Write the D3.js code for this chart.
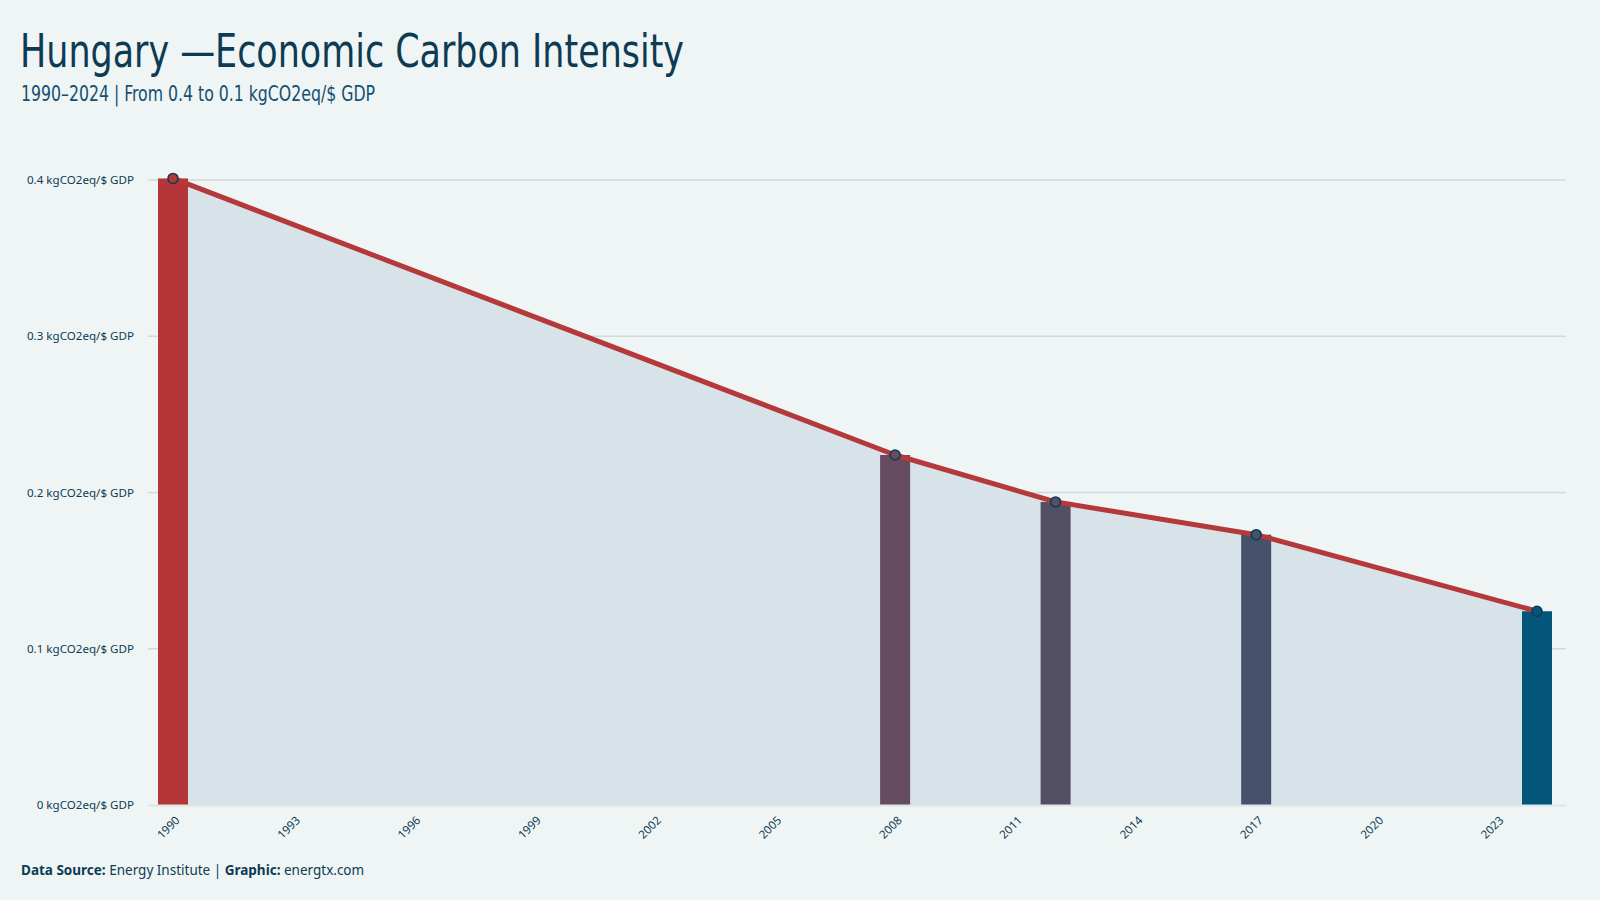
<!DOCTYPE html>
<html>
<head>
<meta charset="utf-8">
<script src="https://cdn.jsdelivr.net/npm/d3@7"></script>
<style>
  html, body { margin: 0; padding: 0; background: #eff5f5; }
  svg { display: block; }
</style>
</head>
<body>
<svg id="chart" width="1600" height="900"></svg>
<script>
// ---- Data ----
const years = [1990, 2008, 2012, 2017, 2024];
const intensity = [0.401, 0.224, 0.194, 0.173, 0.124];
const barColors = ["#b53639", "#674c5f", "#554f66", "#46526b", "#03567a"];
const xTickYears = [1990, 1993, 1996, 1999, 2002, 2005, 2008, 2011, 2014, 2017, 2020, 2023];
const yTickValues = [0, 0.1, 0.2, 0.3, 0.4];
const titleText = "Hungary \u2014Economic Carbon Intensity";
const subtitleText = "1990\u20132024 | From 0.4 to 0.1 kgCO2eq/$ GDP";

const data = years.map((y, i) => ({ year: y, value: intensity[i], color: barColors[i] }));

const svg = d3.select("#chart");
svg.append("rect").attr("width", 1600).attr("height", 900).attr("fill", "#eff5f5");

const plotLeft = 148, plotRight = 1566;
const x = d3.scaleLinear().domain([1990, 2024]).range([173, 1537]);
const y = d3.scaleLinear().domain([0, 0.4]).range([805, 180]);

const ink = "#0d3b54";

// Title and subtitle
svg.append("text")
  .attr("x", 20).attr("y", 67)
  .attr("font-family", "'Liberation Sans Narrow', 'DejaVu Sans Condensed', sans-serif")
  .attr("font-size", 46)
  .attr("fill", ink)
  .attr("textLength", 664).attr("lengthAdjust", "spacingAndGlyphs")
  .text(titleText);

svg.append("text")
  .attr("x", 21).attr("y", 101)
  .attr("font-family", "'Liberation Sans Narrow', 'DejaVu Sans Condensed', sans-serif")
  .attr("font-size", 21)
  .attr("fill", "#14506f")
  .attr("textLength", 354).attr("lengthAdjust", "spacingAndGlyphs")
  .text(subtitleText);

// Gridlines
svg.append("g").selectAll("line")
  .data(yTickValues.filter(v => v > 0))
  .join("line")
  .attr("x1", plotLeft).attr("x2", plotRight)
  .attr("y1", d => y(d)).attr("y2", d => y(d))
  .attr("stroke", "#cfdadd").attr("stroke-width", 1.5);

// Y axis labels
const yAxis = d3.axisLeft(y).tickValues(yTickValues).tickSize(0).tickPadding(0)
  .tickFormat(d => `${d === 0 ? 0 : d3.format(".1f")(d)} kgCO2eq/$ GDP`);
const yg = svg.append("g").attr("transform", `translate(134,0)`).call(yAxis);
yg.select(".domain").remove();
yg.selectAll("text")
  .attr("font-family", "'Noto Sans', sans-serif")
  .attr("font-size", 11.6)
  .attr("fill", ink);

// Area
const area = d3.area()
  .x(d => x(d.year))
  .y0(y(0))
  .y1(d => y(d.value));
svg.append("path").datum(data)
  .attr("d", area)
  .attr("fill", "#d7e3e8");

// Bars
const barW = 30;
svg.append("g").selectAll("rect")
  .data(data)
  .join("rect")
  .attr("x", d => x(d.year) - barW / 2)
  .attr("width", barW)
  .attr("y", d => y(d.value))
  .attr("height", d => y(0) - y(d.value))
  .attr("fill", d => d.color);

// X axis
const xAxis = d3.axisBottom(x).tickValues(xTickYears).tickSize(0).tickPadding(0)
  .tickFormat(d3.format("d"));
const xg = svg.append("g").attr("transform", `translate(0,${y(0)})`).call(xAxis);
xg.select(".domain").remove();
svg.append("line")
  .attr("x1", plotLeft).attr("x2", plotRight)
  .attr("y1", y(0) + 0.5).attr("y2", y(0) + 0.5)
  .attr("stroke", "#dde6e8").attr("stroke-width", 2);
xg.selectAll("text")
  .attr("font-family", "'Noto Sans', sans-serif")
  .attr("font-size", 11.5)
  .attr("fill", ink)
  .attr("text-anchor", "end")
  .attr("dy", null)
  .attr("transform", "translate(7,16) rotate(-45)");

// Line
const line = d3.line().x(d => x(d.year)).y(d => y(d.value));
svg.append("path").datum(data)
  .attr("d", line)
  .attr("fill", "none")
  .attr("stroke", "#b5383a")
  .attr("stroke-width", 5)
  .attr("stroke-linejoin", "round");

// Points
svg.append("g").selectAll("circle")
  .data(data)
  .join("circle")
  .attr("cx", d => x(d.year))
  .attr("cy", d => y(d.value))
  .attr("r", 5)
  .attr("fill", d => d.color)
  .attr("stroke", "#0d3b54")
  .attr("stroke-width", 1.5);

// Footer
const foot = svg.append("text")
  .attr("x", 21).attr("y", 875)
  .attr("font-family", "'Noto Sans', sans-serif")
  .attr("font-size", 13.5)
  .attr("fill", ink);
foot.append("tspan").attr("font-weight", "bold").text("Data Source:");
foot.append("tspan").text(" Energy Institute | ");
foot.append("tspan").attr("font-weight", "bold").text("Graphic:");
foot.append("tspan").text(" energtx.com");
</script>
</body>
</html>
